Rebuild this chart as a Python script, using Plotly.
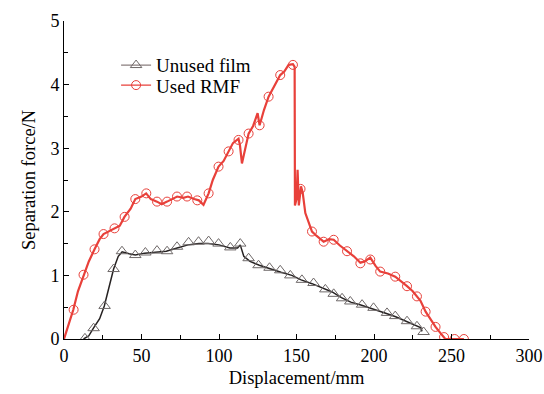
import plotly.graph_objects as go

# ---- data ----
unused_x = [12.6, 16, 19, 23, 26, 29, 32, 35, 37.5, 42, 46, 52, 60, 66, 73, 80, 87, 93, 100,
            107, 112, 113.7, 116, 120, 126, 133, 140, 147, 153, 160, 167, 173, 179, 185, 192,
            200, 208, 214, 221, 227, 230, 231]
unused_y = [0.0, 0.05, 0.17, 0.32, 0.52, 0.8, 1.1, 1.3, 1.37, 1.34, 1.32, 1.35, 1.37, 1.38, 1.43,
            1.48, 1.5, 1.5, 1.48, 1.43, 1.43, 1.48, 1.3, 1.22, 1.16, 1.1, 1.05, 1.0, 0.93, 0.87,
            0.8, 0.74, 0.65, 0.58, 0.53, 0.47, 0.4, 0.35, 0.28, 0.22, 0.18, 0.12]
unused_mx = [13.5, 19.1, 26.2, 32, 37.4, 46, 52.5, 60, 66.5, 72.9, 80.4, 86.8, 93.3, 99.7, 107.3,
             113.7, 119.1, 125.5, 132.6, 139.5, 146, 153.5, 161, 168.6, 174, 179.4, 184.7, 192.3,
             199.7, 208.4, 213.7, 221.3, 227.7, 232]
unused_my = [0.01, 0.17, 0.52, 1.1, 1.38, 1.32, 1.36, 1.39, 1.38, 1.45, 1.52, 1.53, 1.54, 1.50,
             1.44, 1.50, 1.27, 1.16, 1.12, 1.08, 1.00, 0.93, 0.88, 0.78, 0.71, 0.64, 0.59, 0.54,
             0.49, 0.41, 0.36, 0.28, 0.20, 0.11]

used_x = [0, 3, 6, 9, 12.6, 16, 19.7, 23, 25.5, 29, 32.6, 36, 39, 43, 46, 50, 53, 56, 60, 63,
          66.5, 70, 73, 77, 80, 84, 87, 90, 93.3, 96, 99.7, 103, 106.2, 109, 112.6, 113.5, 114.8,
          117, 119.1, 122, 124.9, 126.2, 129, 132, 136, 139.5, 142, 144.9, 147.7, 148.8, 149,
          150, 150.7, 151.5, 152.9, 154, 155.7, 158, 160, 163, 167.5, 171, 174, 178, 182.6, 187,
          191.2, 194, 197.6, 201, 204, 209, 213.7, 218, 221.3, 225, 227.7, 230, 233.3, 236,
          239.7, 242, 245.2, 246, 252, 258]
used_y = [0, 0.22, 0.46, 0.75, 1.01, 1.22, 1.41, 1.57, 1.65, 1.69, 1.74, 1.78, 1.92, 2.05, 2.2,
          2.24, 2.29, 2.2, 2.16, 2.12, 2.16, 2.2, 2.24, 2.22, 2.24, 2.2, 2.18, 2.11, 2.29, 2.5,
          2.71, 2.8, 2.95, 3.08, 3.15, 3.05, 2.76, 3.0, 3.23, 3.35, 3.55, 3.36, 3.6, 3.81, 3.98,
          4.15, 4.2, 4.31, 4.32, 4.28, 2.1, 2.2, 2.66, 2.1, 2.4, 2.3, 1.98, 1.82, 1.69, 1.62,
          1.53, 1.57, 1.56, 1.47, 1.38, 1.3, 1.2, 1.22, 1.28, 1.15, 1.06, 1.03, 0.98, 0.9, 0.83,
          0.75, 0.67, 0.6, 0.43, 0.32, 0.19, 0.12, 0.03, 0, 0, 0]
used_mx = [6.2, 12.6, 19.7, 25.5, 32.6, 39.1, 46, 53.1, 60, 66.5, 72.9, 79.4, 86, 93.3, 99.7,
           106.2, 112.6, 119.1, 126.2, 132, 139.5, 147.7, 152.6, 160, 167.5, 174, 182.6, 191.2,
           197.6, 204, 213.7, 221.3, 227.7, 233.3, 239.7, 245.2, 252, 258]
used_my = [0.46, 1.01, 1.41, 1.65, 1.74, 1.92, 2.2, 2.29, 2.16, 2.16, 2.24, 2.24, 2.18, 2.29, 2.71,
           2.95, 3.13, 3.23, 3.36, 3.81, 4.15, 4.31, 2.36, 1.69, 1.53, 1.56, 1.38, 1.19, 1.25,
           1.06, 0.98, 0.83, 0.67, 0.43, 0.19, 0.03, 0, 0]

x_ticks = [0, 50, 100, 150, 200, 250, 300]
y_ticks = [0, 1, 2, 3, 4, 5]

RED = "#e8403a"
DARK = "#262222"
GREY = "#6e6868"
FONT = "Liberation Serif"

fig = go.Figure()

# data traces
fig.add_trace(go.Scatter(x=unused_x, y=unused_y, mode="lines",
                         line=dict(color=DARK, width=1.5), showlegend=False, hoverinfo="skip"))
fig.add_trace(go.Scatter(x=unused_mx, y=unused_my, mode="markers",
                         marker=dict(symbol="triangle-up-open", size=10,
                                     line=dict(color=GREY, width=1), color=GREY),
                         showlegend=False))
fig.add_trace(go.Scatter(x=used_x, y=used_y, mode="lines",
                         line=dict(color=RED, width=2.2), showlegend=False, hoverinfo="skip"))
fig.add_trace(go.Scatter(x=used_mx, y=used_my, mode="markers",
                         marker=dict(symbol="circle-open", size=9,
                                     line=dict(color=RED, width=1), color=RED),
                         showlegend=False))

# legend entries (one legend per row so the row spacing matches)
fig.add_trace(go.Scatter(x=[None], y=[None], mode="lines+markers", name="Unused film",
                         legend="legend",
                         line=dict(color="#8a7e7e", width=1.2),
                         marker=dict(symbol="triangle-up-open", size=10, color=GREY,
                                     line=dict(color=GREY, width=1))))
fig.add_trace(go.Scatter(x=[None], y=[None], mode="lines+markers", name="Used RMF",
                         legend="legend2",
                         line=dict(color=RED, width=1.2),
                         marker=dict(symbol="circle-open", size=9, color=RED,
                                     line=dict(color=RED, width=1))))

axis_common = dict(showline=True, linecolor="black", linewidth=1, mirror=False,
                   ticks="inside", ticklen=5, tickcolor="black", tickwidth=1,
                   showgrid=False, zeroline=False, automargin=False,
                   tickfont=dict(family=FONT, size=18, color="black"))

leg_common = dict(xanchor="left", yanchor="middle", bgcolor="rgba(0,0,0,0)",
                  font=dict(family=FONT, size=19, color="black"))

fig.update_layout(
    width=544, height=394,
    margin=dict(l=64, r=15, t=21, b=55, autoexpand=False),
    paper_bgcolor="white", plot_bgcolor="white",
    font=dict(family=FONT, size=18, color="black"),
    legend=dict(x=0.112, y=0.861, **leg_common),
    legend2=dict(x=0.112, y=0.798, **leg_common),
    xaxis=dict(range=[0, 300], tickvals=x_ticks,
               minor=dict(ticks="inside", ticklen=4, dtick=25, tickcolor="black"),
               title=dict(text="Displacement/mm", font=dict(family=FONT, size=18.5), standoff=6),
               **axis_common),
    yaxis=dict(range=[0, 5], tickvals=y_ticks,
               minor=dict(ticks="inside", ticklen=4, dtick=0.5, tickcolor="black"),
               title=dict(text="Separation force/N", font=dict(family=FONT, size=18.5), standoff=9),
               **axis_common),
)

# remove the default page margin so the figure fills the window exactly
fig.write_html("out.html", config={"displayModeBar": False},
               post_script="document.body.style.margin='0';document.body.style.overflow='hidden';")
